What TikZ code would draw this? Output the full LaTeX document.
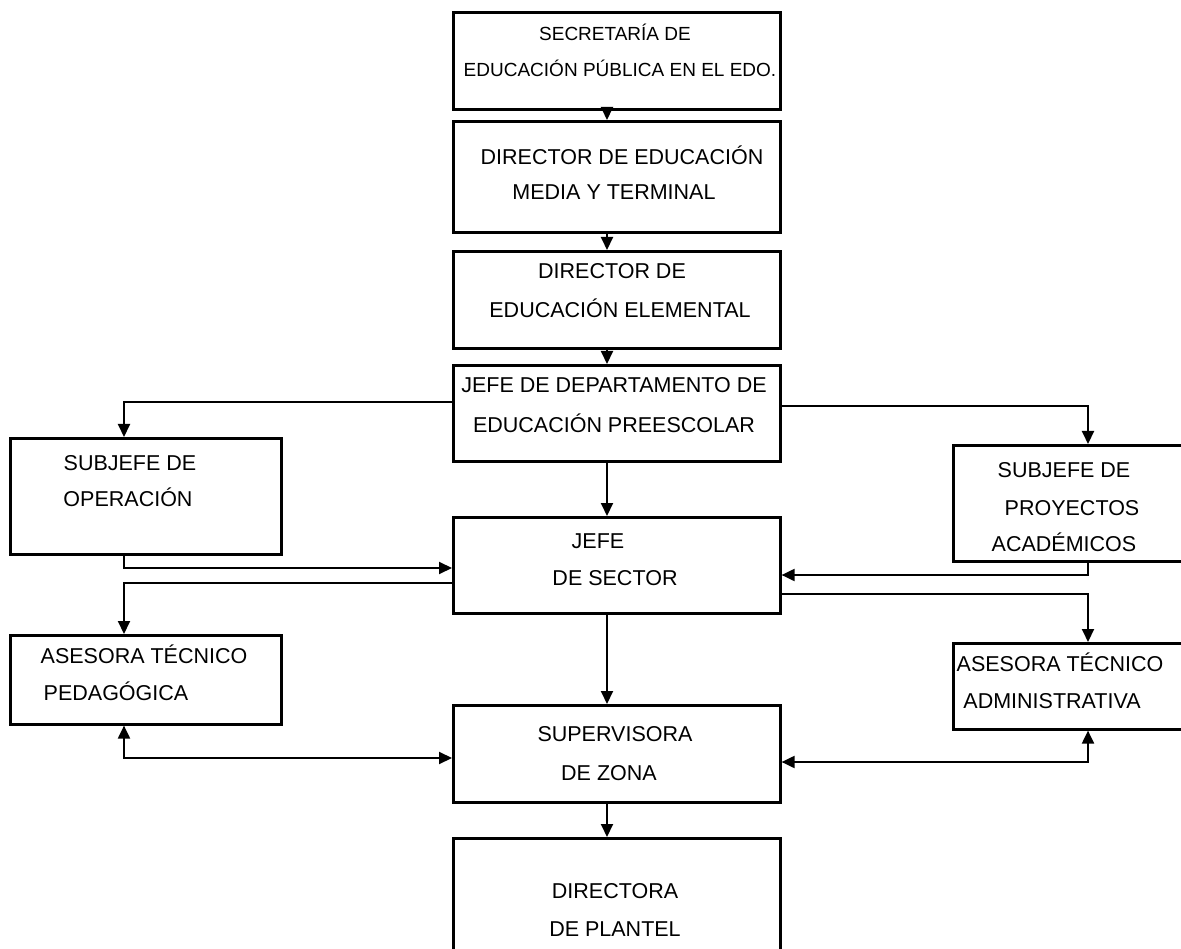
\documentclass[tikz,border=0pt]{standalone}
\usepackage{fontspec}
\setmainfont{Liberation Sans}
\usetikzlibrary{arrows.meta}
\begin{document}
\begin{tikzpicture}[x=1pt,y=-1pt,
  box/.style={draw,line width=2.6pt,rectangle,anchor=north west,inner sep=0pt},
  conn/.style={line width=2pt},
  arr/.style={conn,-{Triangle[length=13pt,width=12pt]}},
  darr/.style={conn,{Triangle[length=13pt,width=12pt]}-{Triangle[length=13pt,width=12pt]}},
  lbl/.style={anchor=base,inner sep=0pt,font=\fontsize{21.5}{26}\selectfont},
  slbl/.style={anchor=base,inner sep=0pt,font=\fontsize{19}{23}\selectfont}]
\useasboundingbox[fill=white] (0,0) rectangle (1181,949);
\clip (0,0) rectangle (1181,949);
% boxes
\node[box,minimum width=327pt,minimum height=97pt] (sec) at (452,11) {};
\node[box,minimum width=327pt,minimum height=111pt] (dm) at (452,120) {};
\node[box,minimum width=327pt,minimum height=97pt] (de) at (452,250) {};
\node[box,minimum width=327pt,minimum height=96pt] (jd) at (452,364) {};
\node[box,minimum width=271pt,minimum height=116pt] (so) at (9,437) {};
\node[box,minimum width=327pt,minimum height=96pt] (js) at (452,516) {};
\node[box,minimum width=250pt,minimum height=116pt] (sp) at (952,444) {};
\node[box,minimum width=271pt,minimum height=89pt] (ap) at (9,634) {};
\node[box,minimum width=250pt,minimum height=86pt] (aa) at (952,642) {};
\node[box,minimum width=327pt,minimum height=97pt] (sz) at (452,704) {};
\node[box,minimum width=327pt,minimum height=130pt] (dp) at (452,837) {};
% texts
\node[slbl] (t1a) at (615,41) {SECRETARÍA DE};
\node[slbl] (t1b) at (620,77) {EDUCACIÓN PÚBLICA EN EL EDO.};
\node[lbl] (t2a) at (622,165) {DIRECTOR DE EDUCACIÓN};
\node[lbl] (t2b) at (614,200) {MEDIA Y TERMINAL};
\node[lbl] (t3a) at (612,279) {DIRECTOR DE};
\node[lbl] (t3b) at (620,318) {EDUCACIÓN ELEMENTAL};
\node[lbl] (t4a) at (614,393) {JEFE DE DEPARTAMENTO DE};
\node[lbl] (t4b) at (614,432) {EDUCACIÓN PREESCOLAR};
\node[lbl] (t5a) at (130,470) {SUBJEFE DE};
\node[lbl] (t5b) at (128,506) {OPERACIÓN};
\node[lbl] (t6a) at (598,548) {JEFE};
\node[lbl] (t6b) at (615,585) {DE SECTOR};
\node[lbl] (t7a) at (1064,477) {SUBJEFE DE};
\node[lbl] (t7b) at (1072,515) {PROYECTOS};
\node[lbl] (t7c) at (1064,551) {ACADÉMICOS};
\node[lbl] (t8a) at (144,663) {ASESORA TÉCNICO};
\node[lbl] (t8b) at (116,700) {PEDAGÓGICA};
\node[lbl] (t9a) at (1060,671) {ASESORA TÉCNICO};
\node[lbl] (t9b) at (1052,708) {ADMINISTRATIVA};
\node[lbl] (t10a) at (615,741) {SUPERVISORA};
\node[lbl] (t10b) at (609,780) {DE ZONA};
\node[lbl] (t11a) at (615,898) {DIRECTORA};
\node[lbl] (t11b) at (615,936) {DE PLANTEL};
% connector guide coordinates
\coordinate (cx) at (607,0);
\coordinate (lx) at (124,0);
\coordinate (rx) at (1088,0);
\coordinate (yJL) at (0,402);
\coordinate (yJR) at (0,406);
\coordinate (ySO) at (0,568);
\coordinate (yJSL) at (0,583);
\coordinate (ySP) at (0,575);
\coordinate (yJSR) at (0,594);
\coordinate (yAPL) at (0,758);
\coordinate (yAAR) at (0,762);
% vertical spine
\draw[arr] (sec.south -| cx) -- (dm.north -| cx);
\draw[arr] (dm.south -| cx) -- (de.north -| cx);
\draw[arr] (de.south -| cx) -- (jd.north -| cx);
\draw[arr] (jd.south -| cx) -- (js.north -| cx);
\draw[arr] (js.south -| cx) -- (sz.north -| cx);
\draw[arr] (sz.south -| cx) -- (dp.north -| cx);
% departamento to subjefes
\draw[arr] (jd.west |- yJL) -| (so.north -| lx);
\draw[arr] (jd.east |- yJR) -| (sp.north -| rx);
% subjefes to jefe de sector
\draw[arr] (so.south -| lx) |- (js.west |- ySO);
\draw[arr] (sp.south -| rx) |- (js.east |- ySP);
% jefe de sector to asesoras
\draw[arr] (js.west |- yJSL) -| (ap.north -| lx);
\draw[arr] (js.east |- yJSR) -| (aa.north -| rx);
% asesoras <-> supervisora
\draw[darr] (ap.south -| lx) |- (sz.west |- yAPL);
\draw[darr] (aa.south -| rx) |- (sz.east |- yAAR);
\end{tikzpicture}
\end{document}
